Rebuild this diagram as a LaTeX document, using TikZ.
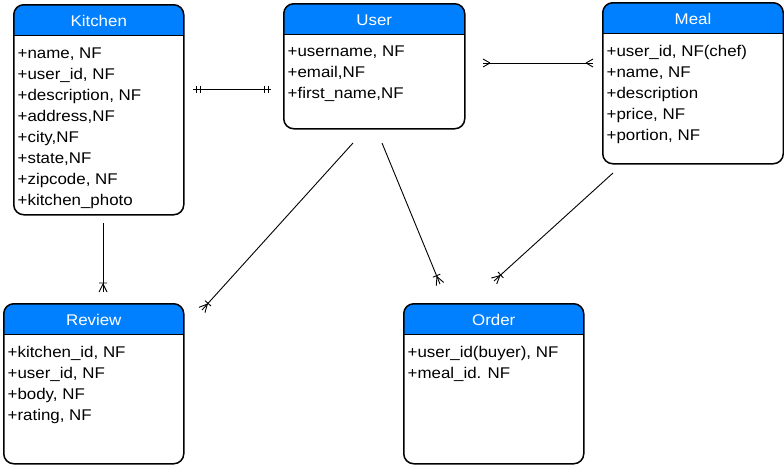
\documentclass[tikz,border=0pt]{standalone}
\usepackage{fontspec}
\setmainfont{Liberation Sans}[FakeStretch=1.09]
\usetikzlibrary{calc,decorations.markings}
\definecolor{hdrblue}{RGB}{0,128,255}
\begin{document}
\begin{tikzpicture}[x=1pt,y=-1pt,
  entity/.style={draw, line width=1.5pt, rounded corners=10pt, fill=white,
    inner sep=0pt, anchor=north west,
    path picture={
      \fill[hdrblue, sharp corners] (path picture bounding box.north west)
        rectangle ([yshift=-31pt]path picture bounding box.north east);
      \draw[line width=1pt, sharp corners] ([yshift=-31pt]path picture bounding box.north west)
        -- ([yshift=-31pt]path picture bounding box.north east);}},
  etitle/.style={font=\fontsize{15.5}{18}\selectfont, text=white, anchor=base, inner sep=0pt},
  attrs/.style={font=\fontsize{15.5}{21.1}\selectfont, align=left, anchor=north west, inner sep=0pt},
  conn/.style={line width=0.9pt},
  mk/.style={line width=0.9pt},
  barsstart/.style={postaction={decorate, decoration={markings,
      mark=at position 0 with {\draw[mk] (3,-3.5) -- (3,3.5) (7,-3.5) -- (7,3.5);}}}},
  barsend/.style={postaction={decorate, decoration={markings,
      mark=at position 1 with {\draw[mk] (-3,-3.5) -- (-3,3.5) (-7,-3.5) -- (-7,3.5);}}}},
  manystart/.style={postaction={decorate, decoration={markings,
      mark=at position 0 with {\draw[mk] (7,0) -- (0,-4) (7,0) -- (0,4);}}}},
  manyend/.style={postaction={decorate, decoration={markings,
      mark=at position 1 with {\draw[mk] (-7,0) -- (0,-4) (-7,0) -- (0,4);}}}},
  onemanyend/.style={postaction={decorate, decoration={markings,
      mark=at position 1 with {\draw[mk] (-8,0) -- (0,-4) (-8,0) -- (0,4) (-9,-4) -- (-9,4);}}}},
]
\useasboundingbox (0,0) rectangle (784,467);

% Entities
\node[entity, minimum width=170, minimum height=210] (kitchen) at (13,4) {};
\node[etitle] (kitchen-t) at ($(kitchen.north)+(0,22)$) {Kitchen};
\node[attrs] (kitchen-a) at ($(kitchen.north west)+(4.5,42)$)
  {\rule{0pt}{12pt}+name, NF\\+user\_id, NF\\+description, NF\\+address,NF\\+city,NF\\+state,NF\\+zipcode, NF\\+kitchen\_photo};

\node[entity, minimum width=181, minimum height=125] (user) at (283,3) {};
\node[etitle] (user-t) at ($(user.north)+(0,22)$) {User};
\node[attrs] (user-a) at ($(user.north west)+(4.5,41)$)
  {\rule{0pt}{12pt}+username, NF\\+email,NF\\+first\_name,NF};

\node[entity, minimum width=180.5, minimum height=161] (meal) at (602,2) {};
\node[etitle] (meal-t) at ($(meal.north)+(0,22)$) {Meal};
\node[attrs] (meal-a) at ($(meal.north west)+(4.5,42)$)
  {\rule{0pt}{12pt}+user\_id, NF(chef)\\+name, NF\\+description\\+price, NF\\+portion, NF};

\node[entity, minimum width=180, minimum height=160] (review) at (3,303) {};
\node[etitle] (review-t) at ($(review.north)+(0,22)$) {Review};
\node[attrs] (review-a) at ($(review.north west)+(4.5,42)$)
  {\rule{0pt}{12pt}+kitchen\_id, NF\\+user\_id, NF\\+body, NF\\+rating, NF};

\node[entity, minimum width=180, minimum height=160] (order) at (403,303) {};
\node[etitle] (order-t) at ($(order.north)+(0,22)$) {Order};
\node[attrs] (order-a) at ($(order.north west)+(4.5,42)$)
  {\rule{0pt}{12pt}+user\_id(buyer), NF\\+meal\_id. NF};

% Connector end points
\coordinate (ku-k) at (193,89);
\coordinate (ku-u) at (271,89);
\coordinate (um-u) at (483,63);
\coordinate (um-m) at (593,63);
\coordinate (kr-k) at (103,223);
\coordinate (kr-r) at (103,292);
\coordinate (ur-u) at (353,143);
\coordinate (ur-r) at (202,310);
\coordinate (uo-u) at (382,143);
\coordinate (uo-o) at (440,284);
\coordinate (mo-m) at (613,173);
\coordinate (mo-o) at (494,281);

% Connectors
\draw[conn, barsstart, barsend] (ku-k) -- (ku-u);
\draw[conn, manystart, manyend] (um-u) -- (um-m);
\draw[conn, onemanyend] (kr-k) -- (kr-r);
\draw[conn, onemanyend] (ur-u) -- (ur-r);
\draw[conn, onemanyend] (uo-u) -- (uo-o);
\draw[conn, onemanyend] (mo-m) -- (mo-o);
\end{tikzpicture}
\end{document}
